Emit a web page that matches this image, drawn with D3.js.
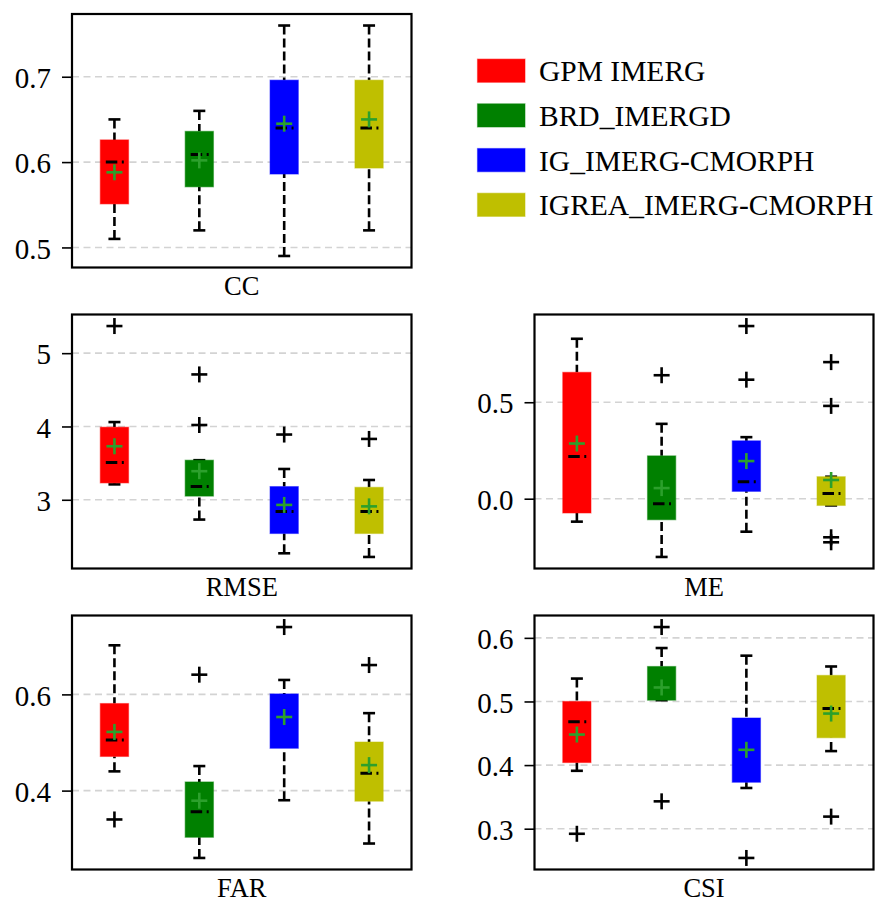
<!DOCTYPE html>
<html>
<head>
<meta charset="utf-8">
<script src="https://cdn.jsdelivr.net/npm/d3@7"></script>
<style>
  html, body { margin: 0; padding: 0; background: #fff; }
  svg { display: block; }
  svg text { font-family: "Liberation Serif", "Tinos", "Noto Serif", "Times New Roman", "Nimbus Roman", "FreeSerif", "DejaVu Serif", "Noto Serif CJK SC", serif; }
</style>
</head>
<body>
<svg id="chart" width="875" height="902"></svg>
<script>
// Products compared in every panel
const methods = ["GPM IMERG", "BRD_IMERGD", "IG_IMERG-CMORPH", "IGREA_IMERG-CMORPH"];

// Box statistics per product: whisker low, Q1, median, Q3, whisker high, mean, outliers
const ccStats = [
  { lo: 0.510, q1: 0.551, med: 0.600, q3: 0.626, hi: 0.650, mean: 0.588, out: [] },
  { lo: 0.520, q1: 0.571, med: 0.609, q3: 0.636, hi: 0.660, mean: 0.602, out: [] },
  { lo: 0.490, q1: 0.586, med: 0.640, q3: 0.696, hi: 0.760, mean: 0.645, out: [] },
  { lo: 0.520, q1: 0.593, med: 0.640, q3: 0.696, hi: 0.760, mean: 0.650, out: [] }
];
const rmseStats = [
  { lo: 3.21, q1: 3.23, med: 3.51, q3: 3.99, hi: 4.06, mean: 3.73, out: [5.37] },
  { lo: 2.73, q1: 3.05, med: 3.18, q3: 3.54, hi: 3.54, mean: 3.39, out: [4.71, 4.02] },
  { lo: 2.27, q1: 2.54, med: 2.84, q3: 3.18, hi: 3.42, mean: 2.93, out: [3.89] },
  { lo: 2.22, q1: 2.54, med: 2.84, q3: 3.17, hi: 3.27, mean: 2.91, out: [3.83] }
];
const meStats = [
  { lo: -0.119, q1: -0.074, med: 0.219, q3: 0.655, hi: 0.829, mean: 0.286, out: [] },
  { lo: -0.302, q1: -0.109, med: -0.026, q3: 0.222, hi: 0.388, mean: 0.055, out: [0.640] },
  { lo: -0.171, q1: 0.038, med: 0.088, q3: 0.300, hi: 0.319, mean: 0.195, out: [0.895, 0.617] },
  { lo: -0.035, q1: -0.035, med: 0.027, q3: 0.114, hi: 0.114, mean: 0.097, out: [0.708, 0.481, -0.200, -0.226] }
];
const farStats = [
  { lo: 0.440, q1: 0.471, med: 0.505, q3: 0.581, hi: 0.702, mean: 0.522, out: [0.340] },
  { lo: 0.260, q1: 0.303, med: 0.356, q3: 0.418, hi: 0.451, mean: 0.379, out: [0.641] },
  { lo: 0.380, q1: 0.488, med: null, q3: 0.601, hi: 0.630, mean: 0.553, out: [0.740] },
  { lo: 0.290, q1: 0.378, med: 0.436, q3: 0.501, hi: 0.561, mean: 0.453, out: [0.661] }
];
const csiStats = [
  { lo: 0.391, q1: 0.404, med: 0.468, q3: 0.500, hi: 0.536, mean: 0.448, out: [0.292] },
  { lo: 0.502, q1: 0.502, med: null, q3: 0.555, hi: 0.584, mean: 0.522, out: [0.617, 0.343] },
  { lo: 0.364, q1: 0.373, med: null, q3: 0.474, hi: 0.572, mean: 0.424, out: [0.254] },
  { lo: 0.422, q1: 0.443, med: 0.489, q3: 0.541, hi: 0.555, mean: 0.481, out: [0.319] }
];

// Tick values for each panel's y axis
const ccTicks = [0.5, 0.6, 0.7];
const rmseTicks = [3, 4, 5];
const meTicks = [0.0, 0.5];
const farTicks = [0.4, 0.6];
const csiTicks = [0.3, 0.4, 0.5, 0.6];

const boxColors = ["#ff0000", "#008000", "#0000ff", "#bfbf00"];
const meanColor = "#2ca02c";

const svg = d3.select("#chart");

const panels = [
  { label: "CC",   stats: ccStats,   ticks: ccTicks,   fmt: d3.format(".1f"), x: 72,    y: 14,    w: 339.5, h: 253.5 },
  { label: "RMSE", stats: rmseStats, ticks: rmseTicks, fmt: d3.format("d"),   x: 72,    y: 314.5, w: 339.5, h: 254 },
  { label: "ME",   stats: meStats,   ticks: meTicks,   fmt: d3.format(".1f"), x: 534.5, y: 314.5, w: 339,   h: 254 },
  { label: "FAR",  stats: farStats,  ticks: farTicks,  fmt: d3.format(".1f"), x: 72,    y: 615.5, w: 339.5, h: 254 },
  { label: "CSI",  stats: csiStats,  ticks: csiTicks,  fmt: d3.format(".1f"), x: 534.5, y: 615.5, w: 339,   h: 254 }
];

function plus(g, cx, cy, size, color, width) {
  const h = size / 2;
  g.append("line").attr("x1", cx - h).attr("x2", cx + h).attr("y1", cy).attr("y2", cy)
    .attr("stroke", color).attr("stroke-width", width);
  g.append("line").attr("x1", cx).attr("x2", cx).attr("y1", cy - h).attr("y2", cy + h)
    .attr("stroke", color).attr("stroke-width", width);
}

panels.forEach(p => {
  // y-range padded by 5% of the data span, like an autoscaled axis
  const all = p.stats.flatMap(s => [s.lo, s.hi, ...s.out]);
  const mn = d3.min(all), mx = d3.max(all), pad = (mx - mn) * 0.05;
  const y = d3.scaleLinear().domain([mn - pad, mx + pad]).range([p.y + p.h, p.y]);
  const x = d3.scaleLinear().domain([0.5, 4.5]).range([p.x, p.x + p.w]);
  const bw = x(1.333) - x(1);

  const g = svg.append("g");

  // dashed horizontal grid
  g.append("g").selectAll("line").data(p.ticks).join("line")
    .attr("x1", p.x).attr("x2", p.x + p.w)
    .attr("y1", d => y(d)).attr("y2", d => y(d))
    .attr("stroke", "#d3d3d3").attr("stroke-width", 1.6)
    .attr("stroke-dasharray", "7,4.5");

  // y axis ticks and labels
  const axis = d3.axisLeft(y).tickValues(p.ticks).tickFormat(p.fmt).tickSize(10).tickPadding(11);
  const ag = g.append("g").attr("transform", `translate(${p.x},0)`).call(axis)
    .attr("font-family", null).attr("font-size", null);
  ag.select(".domain").remove();
  ag.selectAll(".tick line").attr("stroke", "#000").attr("stroke-width", 1.6);
  ag.selectAll(".tick text").style("font-size", "29px")
    .attr("fill", "#000").attr("dy", "0.37em");

  p.stats.forEach((s, i) => {
    const cx = x(i + 1);
    const bg = g.append("g");
    // whiskers
    [[s.q3, s.hi], [s.q1, s.lo]].forEach(([a, b]) => {
      if (a === b) return;
      bg.append("line").attr("x1", cx).attr("x2", cx)
        .attr("y1", y(b)).attr("y2", y(a))
        .attr("stroke", "#000").attr("stroke-width", 2.6)
        .attr("stroke-dasharray", "9,4");
    });
    // caps
    [s.hi, s.lo].forEach(v => {
      bg.append("line").attr("x1", cx - 6).attr("x2", cx + 6)
        .attr("y1", y(v)).attr("y2", y(v))
        .attr("stroke", "#000").attr("stroke-width", 2.6);
    });
    // box
    bg.append("rect")
      .attr("x", cx - bw / 2).attr("width", bw)
      .attr("y", y(s.q3)).attr("height", y(s.q1) - y(s.q3))
      .attr("fill", boxColors[i])
      .attr("stroke", boxColors[i]).attr("stroke-opacity", 0.45).attr("stroke-width", 1.2);
    // median (dash-dot)
    if (s.med !== null) {
      bg.append("line")
        .attr("x1", cx - bw / 2).attr("x2", cx + bw / 2)
        .attr("y1", y(s.med)).attr("y2", y(s.med))
        .attr("stroke", "#000").attr("stroke-width", 3)
        .attr("stroke-dasharray", "0,5.5,11.5,4.5,2,40");
    }
    // outliers
    s.out.forEach(v => plus(bg, cx, y(v), 16, "#000", 2.6));
    // mean
    plus(bg, cx, y(s.mean), 16, meanColor, 2.6);
  });

  // frame
  g.append("rect").attr("x", p.x).attr("y", p.y).attr("width", p.w).attr("height", p.h)
    .attr("fill", "none").attr("stroke", "#000").attr("stroke-width", 2.2);

  // metric label
  g.append("text").attr("x", p.x + p.w / 2).attr("y", p.y + p.h + 27)
    .attr("text-anchor", "middle").style("font-size", "26.5px")
    .attr("fill", "#000").text(p.label);
});

// legend
const lg = svg.append("g");
methods.forEach((m, i) => {
  const cy = 70.7 + i * 44.7;
  lg.append("rect").attr("x", 477.5).attr("y", cy - 11.6).attr("width", 47.5).attr("height", 23.2)
    .attr("fill", boxColors[i]).attr("stroke", boxColors[i]).attr("stroke-opacity", 0.45).attr("stroke-width", 1.2);
  lg.append("text").attr("x", 539).attr("y", cy + 10.4)
    .style("font-size", "29.5px").attr("fill", "#000").text(m);
});
</script>
</body>
</html>
